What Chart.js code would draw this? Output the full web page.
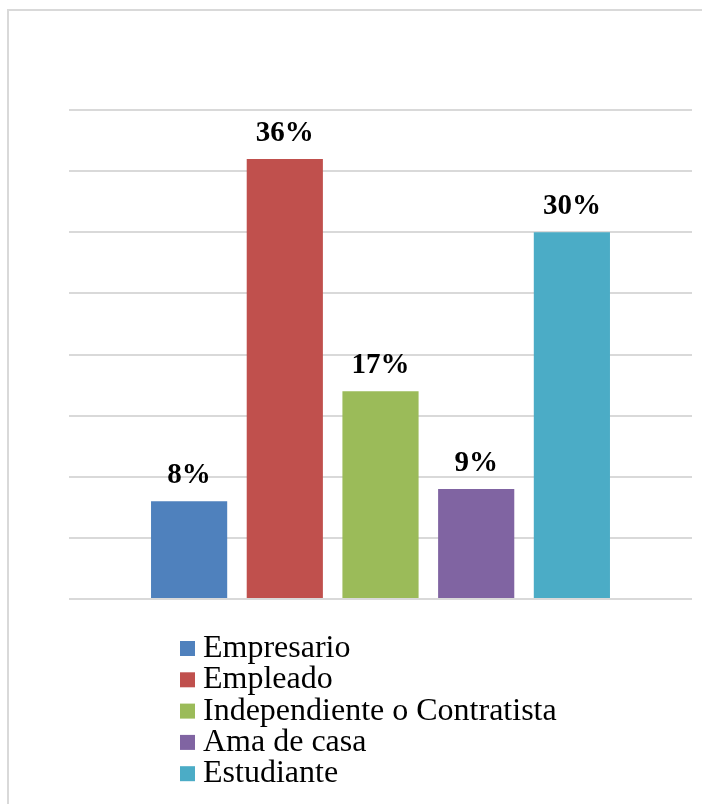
<!DOCTYPE html>
<html>
<head>
<meta charset="utf-8">
<script src="https://cdn.jsdelivr.net/npm/chart.js@4/dist/chart.umd.min.js"></script>
<style>
  html, body { margin: 0; padding: 0; background: #fff; }
  #wrap { position: relative; width: 702px; height: 804px; }
  #frame {
    position: absolute; left: 7px; top: 9px; right: 0; bottom: 0;
    border-left: 2px solid #d9d9d9; border-top: 2px solid #d9d9d9;
  }
  canvas { position: absolute; left: 0; top: 0; }
</style>
</head>
<body>
<div id="wrap">
  <div id="frame"></div>
  <canvas id="chart" width="702" height="804"></canvas>
</div>
<script>
const categories = ['Empresario', 'Empleado', 'Independiente o Contratista', 'Ama de casa', 'Estudiante'];
const percentages = [8, 36, 17, 9, 30];
const colors = ['#4f81bd', '#c0504d', '#9bbb59', '#8064a2', '#4bacc6'];

const SERIF = '"Liberation Serif", "Times New Roman", Times, "DejaVu Serif", serif';

// one dataset per occupation so the bars sit side by side in a single group
const datasets = categories.map((name, i) => ({
  label: name,
  data: [percentages[i]],
  backgroundColor: colors[i],
  borderWidth: 0,
  categoryPercentage: 0.768,
  barPercentage: 0.796,
}));

const valueLabels = {
  id: 'valueLabels',
  afterDatasetsDraw(chart) {
    const ctx = chart.ctx;
    ctx.save();
    ctx.font = 'bold 29px ' + SERIF;
    ctx.fillStyle = '#000';
    ctx.textAlign = 'center';
    ctx.textBaseline = 'alphabetic';
    chart.data.datasets.forEach((ds, i) => {
      const bar = chart.getDatasetMeta(i).data[0];
      ctx.fillText(ds.data[0] + '%', bar.x, bar.y - 18);
    });
    ctx.restore();
  },
};

// vertical legend under the plot
const stackedLegend = {
  id: 'stackedLegend',
  afterDraw(chart) {
    const ctx = chart.ctx;
    const left = 180, top = 641, rowHeight = 31.3, box = 15;
    ctx.save();
    ctx.font = '32px ' + SERIF;
    ctx.textBaseline = 'alphabetic';
    ctx.textAlign = 'left';
    chart.data.datasets.forEach((ds, i) => {
      const y = top + i * rowHeight;
      ctx.fillStyle = ds.backgroundColor;
      ctx.fillRect(left, y, box, box);
      ctx.fillStyle = '#000';
      ctx.fillText(ds.label, left + 23, y + 16);
    });
    ctx.restore();
  },
};

function draw() {
  new Chart(document.getElementById('chart'), {
    type: 'bar',
    data: {
      labels: [''],
      datasets: datasets,
    },
    options: {
      responsive: false,
      animation: false,
      layout: {
        padding: {left: 69, right: 10, top: 110, bottom: 197},
      },
      plugins: {
        legend: {display: false},
        tooltip: {enabled: false},
      },
      scales: {
        x: {
          ticks: {display: false},
          grid: {display: false},
          border: {display: false},
        },
        y: {
          min: 0,
          max: 40,
          ticks: {display: false, stepSize: 5},
          grid: {color: '#d9d9d9', lineWidth: 2, drawTicks: false},
          border: {display: false},
        },
      },
    },
    plugins: [valueLabels, stackedLegend],
  });
}

Promise.all([
  document.fonts.load('32px "Liberation Serif"'),
  document.fonts.load('bold 29px "Liberation Serif"'),
]).then(draw, draw);
</script>
</body>
</html>
